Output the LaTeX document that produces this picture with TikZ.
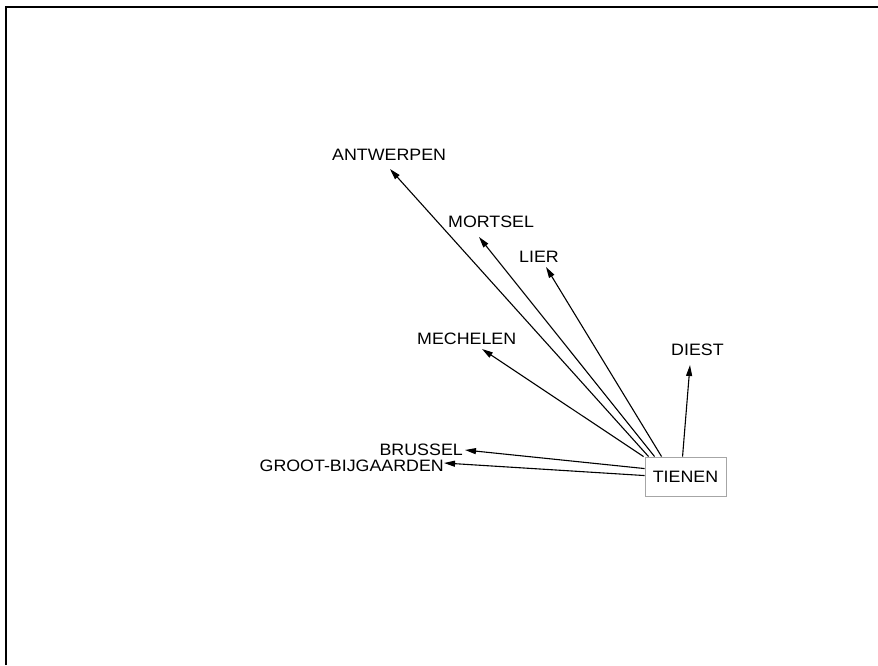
\documentclass[tikz,border=0pt]{standalone}
\usepackage{fontspec}
\setmainfont[FakeStretch=1.08]{Liberation Sans}
\usetikzlibrary{arrows.meta,calc}
\begin{document}
\begin{tikzpicture}[x=1pt,y=-1pt,
  lbl/.style={inner sep=0pt,font=\fontsize{16.5}{18}\selectfont},
  link/.style={line width=1.1pt,-{Triangle[length=11pt,width=6pt]}},
  frameline/.style={line width=2pt,black}]
\useasboundingbox (0,0) rectangle (878,665);
% frame
\coordinate (f1) at (6,665);
\coordinate (f2) at (6,7);
\coordinate (f3) at (878,7);
\draw[frameline] (f1) -- (f2) -- (f3);
% centre node
\node[draw=gray!70,line width=0.9pt,minimum width=81pt,minimum height=39pt,inner sep=0pt,font=\fontsize{16.5}{18}\selectfont] (tienen) at (685.5,476.5) {TIENEN};
% labels
\node[lbl,anchor=base west] (antwerpen) at (332,160) {ANTWERPEN};
\node[lbl,anchor=base west] (mortsel) at (448,227) {MORTSEL};
\node[lbl,anchor=base west] (lier) at (519,262) {LIER};
\node[lbl,anchor=base west] (mechelen) at (417,344) {MECHELEN};
\node[lbl,anchor=base west] (diest) at (671,355) {DIEST};
\node[lbl,anchor=base east] (brussel) at (463,455) {BRUSSEL};
\node[lbl,anchor=base east] (groot) at (444,471) {GROOT-BIJGAARDEN};
% arrow tips
\coordinate (tAnt) at (390,169);
\coordinate (tMor) at (479,237);
\coordinate (tLie) at (546,267);
\coordinate (tMec) at (482,349);
\coordinate (tDie) at (690,365);
\coordinate (tBru) at ($(brussel.base east)+(2,-5)$);
\coordinate (tGro) at ($(groot.base east)+(0,-8)$);
% arrows from TIENEN
\draw[link] ([xshift=-1pt]tienen.north west) -- (tMec);
\draw[link] ([xshift=4pt]tienen.north west) -- (tAnt);
\draw[link] ([xshift=10pt]tienen.north west) -- (tMor);
\draw[link] ([xshift=17pt]tienen.north west) -- (tLie);
\draw[link] ([xshift=38pt]tienen.north west) -- (tDie);
\draw[link] ([yshift=-12pt]tienen.north west) -- (tBru);
\draw[link] ([yshift=-19pt]tienen.north west) -- (tGro);
\end{tikzpicture}
\end{document}
